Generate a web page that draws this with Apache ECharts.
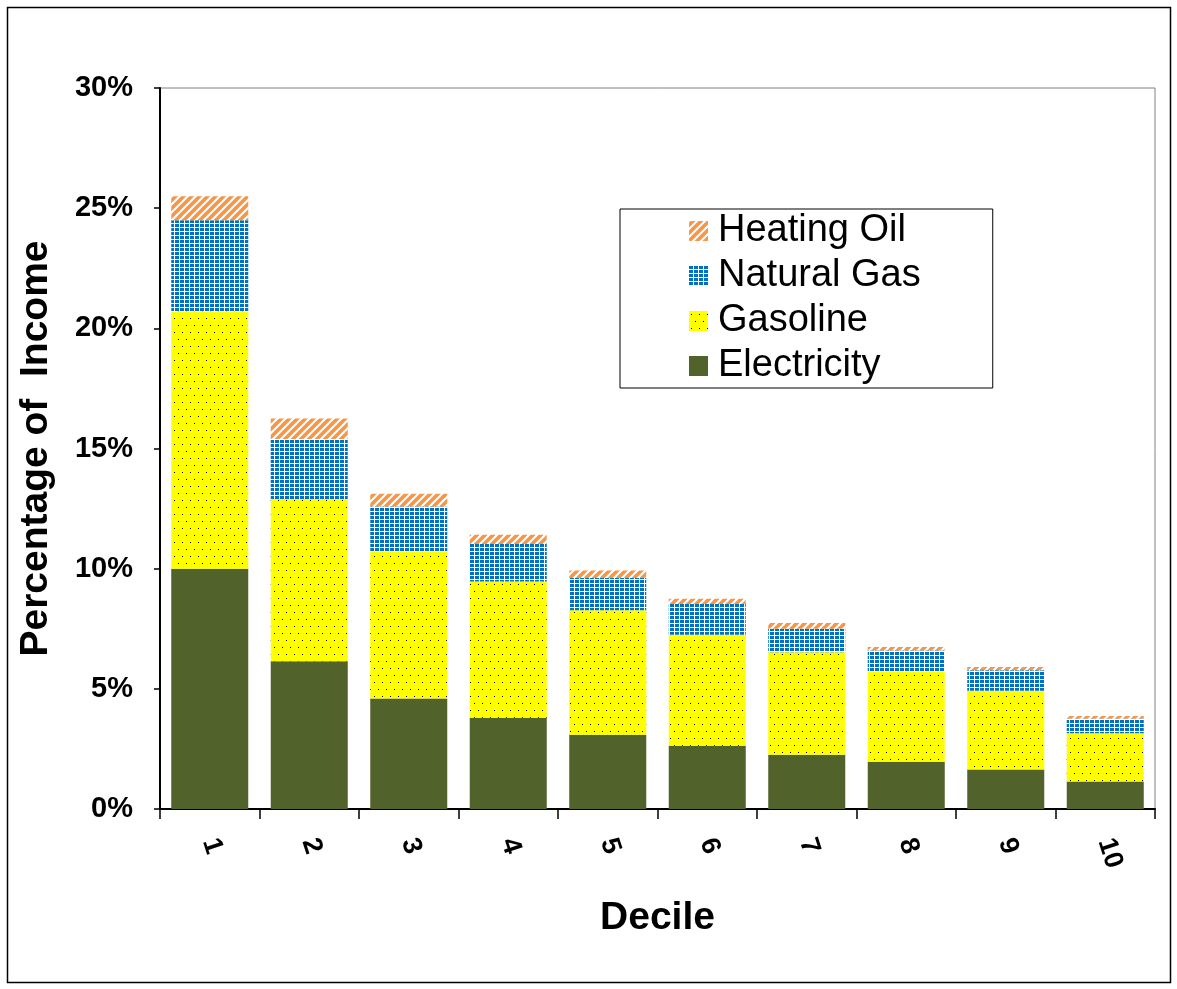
<!DOCTYPE html>
<html>
<head>
<meta charset="utf-8">
<script src="https://cdn.jsdelivr.net/npm/echarts@6/dist/echarts.min.js"></script>
<style>
  html, body { margin: 0; padding: 0; background: #fff; }
  #chart { width: 1177px; height: 989px; }
</style>
</head>
<body>
<div id="chart"></div>
<script>
// Household energy spending as a share of income, by income decile (percent)
const deciles = ['1', '2', '3', '4', '5', '6', '7', '8', '9', '10'];
const electricity = [10.0, 6.15, 4.6, 3.8, 3.09, 2.63, 2.26, 1.97, 1.64, 1.14];
const gasoline    = [10.7, 6.75, 6.12, 5.67, 5.18, 4.62, 4.26, 3.76, 3.28, 2.01];
const naturalGas  = [3.8, 2.5, 1.87, 1.56, 1.34, 1.28, 0.98, 0.87, 0.85, 0.61];
const heatingOil  = [1.0, 0.85, 0.53, 0.38, 0.31, 0.22, 0.24, 0.14, 0.14, 0.11];
const yTicks = [0, 5, 10, 15, 20, 25, 30];

// Tile helpers for the hatched fills
function tile(w, h, paint) {
  const c = document.createElement('canvas');
  c.width = w; c.height = h;
  paint(c.getContext('2d'), w, h);
  return c;
}
const stripeTile = tile(8, 8, (g, w, h) => {
  g.fillStyle = '#F79646'; g.fillRect(0, 0, w, h);
  g.strokeStyle = '#ffffff'; g.lineWidth = 2;
  for (let k = -1; k <= 1; k++) {
    g.beginPath();
    g.moveTo(k * w - 1, h + 1);
    g.lineTo(k * w + w + 1, -1);
    g.stroke();
  }
});
const gridTile = tile(5, 4, (g, w, h) => {
  g.fillStyle = '#0070C0'; g.fillRect(0, 0, w, h);
  g.fillStyle = '#ffffff';
  g.fillRect(4, 0, 1, h);
  g.fillRect(0, 3, w, 1);
});
const dotTile = tile(8, 14, (g, w, h) => {
  g.fillStyle = '#FFFF00'; g.fillRect(0, 0, w, h);
  g.fillStyle = '#000000';
  g.fillRect(2, 3, 1, 1);
  g.fillRect(6, 10, 1, 1);
});

const fills = {
  'Heating Oil': { image: stripeTile, repeat: 'repeat' },
  'Natural Gas': { image: gridTile, repeat: 'repeat' },
  'Gasoline':    { image: dotTile, repeat: 'repeat' },
  'Electricity': '#51622A'
};

function barSeries(name, data) {
  return {
    name: name,
    type: 'bar',
    stack: 'energy',
    data: data,
    barWidth: 77,
    itemStyle: { color: fills[name] },
    emphasis: { disabled: true }
  };
}

const font = 'Liberation Sans, Arial, sans-serif';
const chart = echarts.init(document.getElementById('chart'), null, { renderer: 'canvas' });
chart.setOption({
  animation: false,
  backgroundColor: '#ffffff',
  graphic: [{
    type: 'rect',
    shape: { x: 7.5, y: 7.5, width: 1163, height: 975 },
    style: { fill: 'none', stroke: '#000', lineWidth: 1.5 },
    z: 0
  }],
  grid: {
    left: 160, right: 22, top: 88, bottom: 180,
    show: true, borderColor: '#808080', borderWidth: 1, backgroundColor: 'transparent'
  },
  legend: {
    data: ['Heating Oil', 'Natural Gas', 'Gasoline', 'Electricity'],
    orient: 'vertical',
    left: 620, top: 209,
    padding: [3, 72, 3, 69],
    icon: 'rect',
    itemWidth: 19, itemHeight: 20,
    itemGap: 7,
    backgroundColor: '#ffffff',
    borderColor: '#000', borderWidth: 1,
    selectedMode: false,
    textStyle: { fontFamily: font, fontSize: 38, color: '#000', padding: [0, 0, 0, 5] }
  },
  xAxis: {
    type: 'category',
    data: deciles,
    name: 'Decile',
    nameLocation: 'middle',
    nameGap: 90,
    nameTextStyle: { fontFamily: font, fontSize: 39, fontWeight: 'bold', color: '#000' },
    axisLine: { lineStyle: { color: '#000', width: 2 } },
    axisTick: { show: true, length: 10, lineStyle: { color: '#000', width: 1.5 } },
    axisLabel: { rotate: -72, margin: 30, fontFamily: font, fontSize: 27, fontWeight: 'bold', color: '#000' }
  },
  yAxis: {
    type: 'value',
    min: 0, max: 30, interval: 5,
    name: 'Percentage of  Income',
    nameLocation: 'middle',
    nameGap: 104,
    nameTextStyle: { fontFamily: font, fontSize: 39, fontWeight: 'bold', color: '#000' },
    axisLine: { show: true, lineStyle: { color: '#000', width: 2 } },
    axisTick: { show: true, length: 6, lineStyle: { color: '#000', width: 1.5 } },
    splitLine: { show: false },
    axisLabel: {
      margin: 27, fontFamily: font, fontSize: 29, fontWeight: 'bold', color: '#000',
      formatter: v => (yTicks.indexOf(v) >= 0 ? v + '%' : '')
    }
  },
  series: [
    barSeries('Electricity', electricity),
    barSeries('Gasoline', gasoline),
    barSeries('Natural Gas', naturalGas),
    barSeries('Heating Oil', heatingOil)
  ]
});
</script>
</body>
</html>
